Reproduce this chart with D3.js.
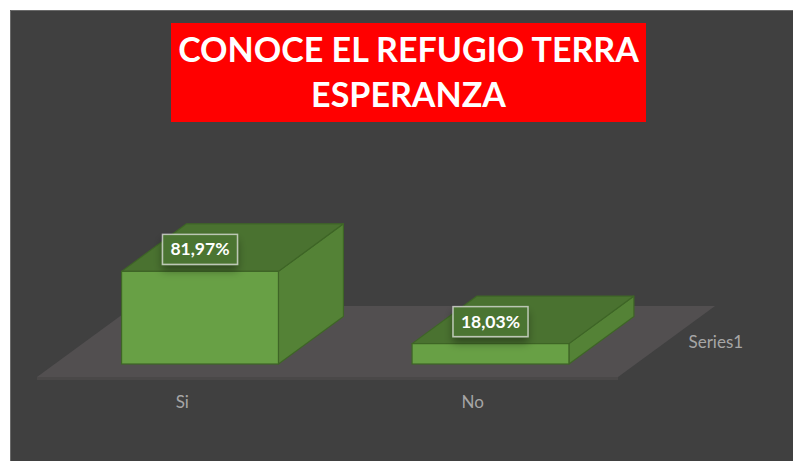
<!DOCTYPE html>
<html>
<head>
<meta charset="utf-8">
<script src="https://cdn.jsdelivr.net/npm/d3@7/dist/d3.min.js"></script>
<style>
  html, body { margin: 0; padding: 0; background: #ffffff; }
  svg { display: block; }
</style>
</head>
<body>
<svg id="chart" width="793" height="461"></svg>
<script>
// ---- data ----
const categories = ["Si", "No"];
const values = [81.97, 18.03];
const valueLabels = ["81,97%", "18,03%"];
const seriesName = "Series1";
const titleLines = ["CONOCE EL REFUGIO TERRA", "ESPERANZA"];

// ---- layout ----
const W = 793, H = 461;
const svg = d3.select("#chart");
const font = "Lato, 'Open Sans', 'DejaVu Sans', sans-serif";

// background
svg.append("rect").attr("x", 10).attr("y", 10).attr("width", W - 10).attr("height", H - 10)
  .attr("fill", "#404040");
svg.append("path").attr("d", `M10.5,${H} L10.5,10.5 L${W},10.5`)
  .attr("fill", "none").attr("stroke", "#6a6a6a").attr("stroke-width", 1);

// floor geometry
const floorY = 377, floorL = 37, floorR = 618;
const depth = { dx: 97, dy: -71 };
const barFrontF = 0.183, barDepthF = 0.67;

const x = d3.scaleBand().domain(categories).range([floorL, floorR])
  .paddingInner(0.46).paddingOuter(0.23);
const h = d3.scaleLinear().domain([0, 100]).range([0, 113]);

// floor
const floorPts = [[floorL, floorY], [floorR, floorY], [floorR + depth.dx, floorY + depth.dy], [floorL + depth.dx, floorY + depth.dy]];
svg.append("polygon").attr("points", floorPts.map(p => p.join(",")).join(" "))
  .attr("fill", "#524f50");
svg.append("rect").attr("x", floorL).attr("y", floorY).attr("width", floorR - floorL).attr("height", 3)
  .attr("fill", "#4a4848");

// shadow filter
const defs = svg.append("defs");
const f = defs.append("filter").attr("id", "sh").attr("x", "-30%").attr("y", "-30%").attr("width", "160%").attr("height", "190%");
f.append("feGaussianBlur").attr("in", "SourceAlpha").attr("stdDeviation", 4);
f.append("feOffset").attr("dx", 0).attr("dy", 6).attr("result", "b");
f.append("feFlood").attr("flood-color", "#000").attr("flood-opacity", 0.35);
f.append("feComposite").attr("in2", "b").attr("operator", "in");
const fm = f.append("feMerge");
fm.append("feMergeNode");
fm.append("feMergeNode").attr("in", "SourceGraphic");

// bars
const fdx = depth.dx * barFrontF, fdy = depth.dy * barFrontF;
const bdx = depth.dx * barDepthF, bdy = depth.dy * barDepthF;
const bw = x.bandwidth();
const edge = "#3e6526";

categories.forEach((c, i) => {
  const x0 = x(c) + fdx, base = floorY + fdy;
  const top = base - h(values[i]);
  const g = svg.append("g");
  // side
  g.append("polygon").attr("points", [
    [x0 + bw, base], [x0 + bw + bdx, base + bdy], [x0 + bw + bdx, top + bdy], [x0 + bw, top]
  ].map(p => p.join(",")).join(" "))
    .attr("fill", "#548236").attr("stroke", edge).attr("stroke-width", 1.2).attr("stroke-linejoin", "round");
  // top
  g.append("polygon").attr("points", [
    [x0, top], [x0 + bw, top], [x0 + bw + bdx, top + bdy], [x0 + bdx, top + bdy]
  ].map(p => p.join(",")).join(" "))
    .attr("fill", "#4a7230").attr("stroke", edge).attr("stroke-width", 1.2).attr("stroke-linejoin", "round");
  // front
  g.append("rect").attr("x", x0).attr("y", top).attr("width", bw).attr("height", base - top)
    .attr("fill", "#68a045").attr("stroke", edge).attr("stroke-width", 1.2);
});

// data labels
categories.forEach((c, i) => {
  const cx = x(c) + fdx + bw / 2;
  const top = floorY + fdy - h(values[i]);
  const cy = top - 22;
  svg.append("rect").attr("x", cx - 37.5).attr("y", cy - 15).attr("width", 75).attr("height", 30)
    .attr("fill", "#4b7431").attr("stroke", "rgba(235,235,235,0.7)").attr("stroke-width", 1.5)
    .attr("filter", "url(#sh)");
  svg.append("text").attr("x", cx).attr("y", cy + 6).attr("text-anchor", "middle")
    .attr("font-family", font).attr("font-weight", "bold").attr("font-size", 17.5)
    .attr("fill", "#ffffff").text(valueLabels[i]);
});

// category labels
categories.forEach((c) => {
  svg.append("text").attr("x", x(c) + bw / 2).attr("y", 408).attr("text-anchor", "middle")
    .attr("font-family", font).attr("font-size", 17).attr("fill", "#a6a6a6").text(c);
});

// series (depth axis) label
svg.append("text").attr("x", floorR + depth.dx / 2 + 22).attr("y", 348)
  .attr("font-family", font).attr("font-size", 17).attr("fill", "#a6a6a6").text(seriesName);

// title
svg.append("rect").attr("x", 171).attr("y", 23).attr("width", 475).attr("height", 99).attr("fill", "#ff0000");
const tcx = 408.5;
const t1 = svg.append("text").attr("x", tcx).attr("y", 62).attr("text-anchor", "middle")
  .attr("font-family", font).attr("font-weight", "bold").attr("font-size", 32)
  .attr("fill", "#ffffff").text(titleLines[0]);
const w1 = t1.node().getComputedTextLength();
const fs = 32 * 461 / w1;
t1.attr("font-size", fs);
svg.append("text").attr("x", tcx).attr("y", 107).attr("text-anchor", "middle")
  .attr("font-family", font).attr("font-weight", "bold").attr("font-size", fs)
  .attr("fill", "#ffffff").text(titleLines[1]);
</script>
</body>
</html>
